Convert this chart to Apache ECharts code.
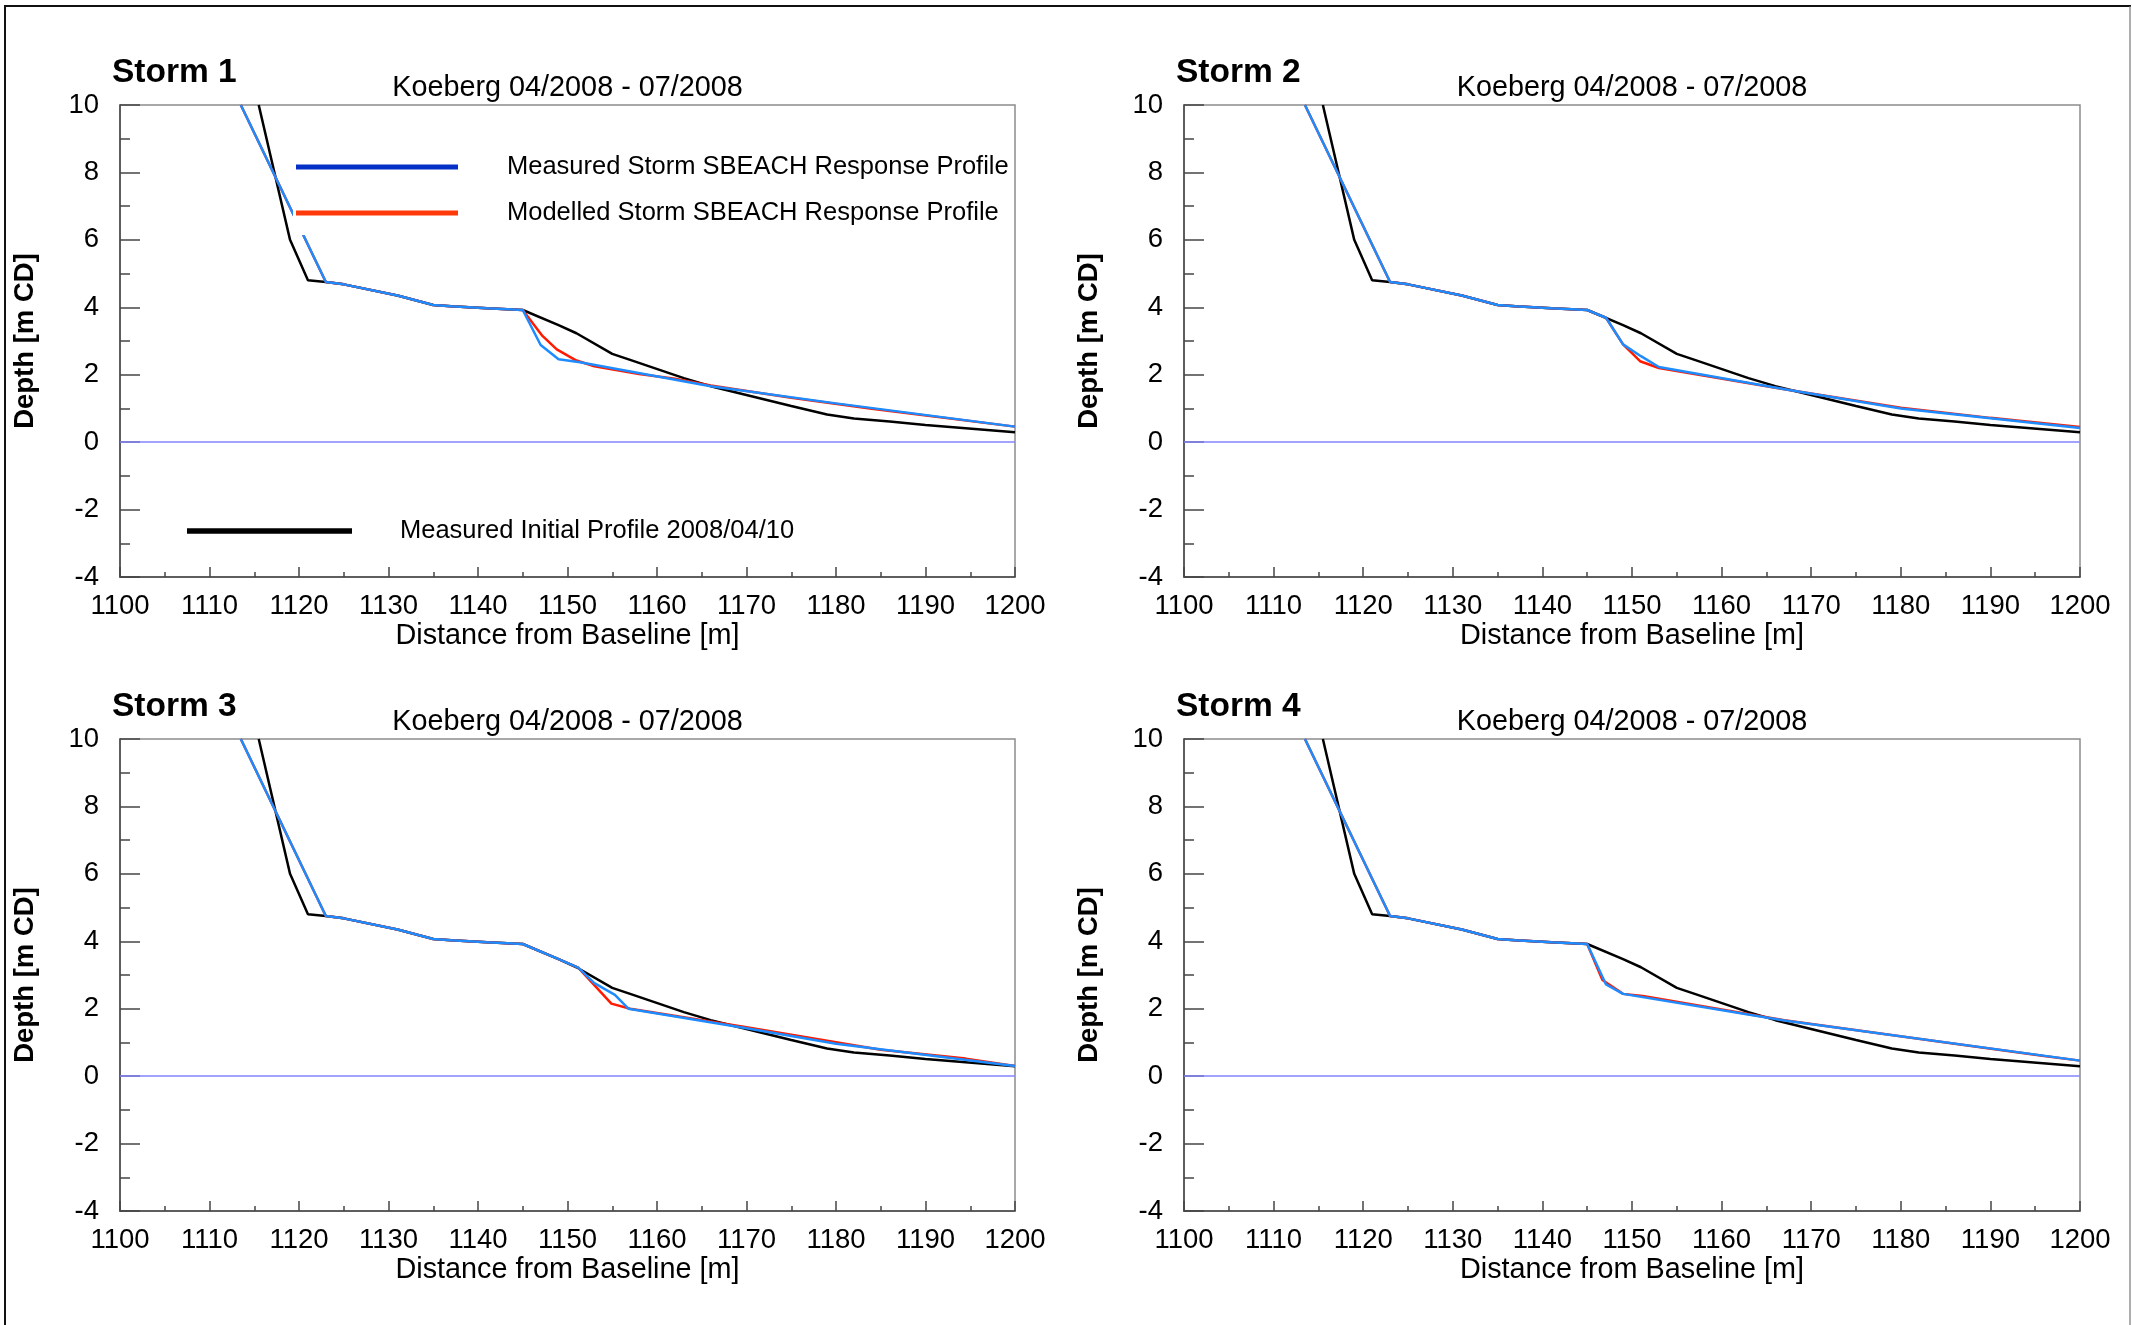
<!DOCTYPE html>
<html>
<head>
<meta charset="utf-8">
<script src="https://cdn.jsdelivr.net/npm/echarts@6/dist/echarts.min.js"></script>
<style>
  html, body { margin: 0; padding: 0; background: #fff; }
  #chart { width: 2132px; height: 1325px; }
</style>
</head>
<body>
<div id="chart"></div>
<script>
// Cross-shore beach profiles: [distance from baseline (m), depth (m CD)]

// Pre-storm survey, identical in every panel
const initialProfile = [
  [1115.5, 10], [1119, 6.0], [1121, 4.8], [1123, 4.75], [1125, 4.68], [1131, 4.35],
  [1135, 4.07], [1137, 4.03], [1141, 3.97], [1145, 3.92], [1149, 3.47], [1151, 3.23],
  [1155, 2.62], [1157, 2.44], [1163, 1.9], [1166, 1.66], [1175, 1.07], [1179, 0.82],
  [1182, 0.7], [1186, 0.61], [1190, 0.51], [1200, 0.29]
];

// Upper beach shared by all post-storm profiles
const crestProfile = [
  [1113.5, 10], [1123, 4.75], [1125, 4.68], [1131, 4.35], [1135, 4.07],
  [1137, 4.03], [1141, 3.97], [1145, 3.92]
];

// Lower beach, per storm: measured response and SBEACH model response
const measuredTail1 = [[1147, 2.88], [1149, 2.46], [1151.4, 2.37], [1166, 1.66], [1180, 1.15], [1200, 0.46]];
const modelledTail1 = [[1147.2, 3.15], [1148.8, 2.75], [1151, 2.42], [1153, 2.25], [1158, 2.02], [1162, 1.88],
                       [1166, 1.68], [1175, 1.32], [1184, 0.99], [1200, 0.46]];

const measuredTail2 = [[1147.1, 3.69], [1149, 2.9], [1151, 2.55], [1153, 2.23], [1167.2, 1.56], [1180, 1.0], [1200, 0.42]];
const modelledTail2 = [[1147.1, 3.69], [1149, 2.9], [1150.9, 2.4], [1153, 2.2], [1167, 1.57], [1180, 1.02],
                       [1190, 0.72], [1200, 0.45]];

const measuredTail3 = [[1149, 3.47], [1151.2, 3.22], [1153, 2.76], [1155.3, 2.41], [1156.8, 2.0], [1170, 1.42],
                       [1180, 0.96], [1200, 0.3]];
const modelledTail3 = [[1149, 3.47], [1151.2, 3.22], [1154.9, 2.15], [1157, 2.0], [1170, 1.45], [1185, 0.78],
                       [1194.5, 0.52], [1200, 0.3]];

const measuredTail4 = [[1147.1, 2.72], [1149, 2.44], [1167, 1.65], [1200, 0.46]];
const modelledTail4 = [[1146.7, 2.85], [1149, 2.44], [1151.2, 2.38], [1167, 1.66], [1185, 1.0], [1196, 0.6], [1200, 0.46]];

const stormNames = ['Storm 1', 'Storm 2', 'Storm 3', 'Storm 4'];
const siteTitle = 'Koeberg 04/2008 - 07/2008';
const seriesNames = {
  initial: 'Measured Initial Profile 2008/04/10',
  measured: 'Measured Storm SBEACH Response Profile',
  modelled: 'Modelled Storm SBEACH Response Profile'
};

const measuredTails = [measuredTail1, measuredTail2, measuredTail3, measuredTail4];
const modelledTails = [modelledTail1, modelledTail2, modelledTail3, modelledTail4];

// Panel geometry (2 x 2)
const FONT = '"Liberation Sans", Arial, Helvetica, sans-serif';
const panels = [
  { left: 120,  top: 105, width: 895, height: 472 },
  { left: 1184, top: 105, width: 896, height: 472 },
  { left: 120,  top: 739, width: 895, height: 472 },
  { left: 1184, top: 739, width: 896, height: 472 }
];

const AXIS_COLOR = '#454545';
const grids = [], xAxes = [], yAxes = [], series = [], titles = [];

panels.forEach((p, i) => {
  grids.push({
    left: p.left, top: p.top, width: p.width, height: p.height,
    show: true, borderColor: '#8c8c8c', borderWidth: 1.5,
    backgroundColor: 'transparent', containLabel: false, outerBoundsMode: 'none'
  });

  xAxes.push({
    gridIndex: i, type: 'value', min: 1100, max: 1200, interval: 10,
    name: 'Distance from Baseline [m]', nameLocation: 'middle', nameGap: 45,
    nameTextStyle: { fontSize: 28.8, color: '#000', fontFamily: FONT },
    axisLine: { show: true, onZero: false, lineStyle: { color: AXIS_COLOR, width: 1.5 } },
    axisTick: { show: true, inside: true, length: 10, lineStyle: { color: AXIS_COLOR, width: 1.5 } },
    minorTick: { show: true, splitNumber: 2, length: 5, lineStyle: { color: AXIS_COLOR, width: 1.5 } },
    axisLabel: { fontSize: 27.5, color: '#000', fontFamily: FONT, margin: 15, formatter: v => String(v) },
    splitLine: { show: false }, minorSplitLine: { show: false }
  });

  yAxes.push({
    gridIndex: i, type: 'value', min: -4, max: 10, interval: 2,
    name: 'Depth [m CD]', nameLocation: 'middle', nameGap: 81,
    nameTextStyle: { fontSize: 27.5, fontWeight: 'bold', color: '#000', fontFamily: FONT },
    axisLine: { show: true, onZero: false, lineStyle: { color: AXIS_COLOR, width: 1.5 } },
    axisTick: { show: true, inside: true, length: 20, lineStyle: { color: AXIS_COLOR, width: 1.5 } },
    minorTick: { show: true, splitNumber: 2, length: 10, lineStyle: { color: AXIS_COLOR, width: 1.5 } },
    axisLabel: { fontSize: 27.5, color: '#000', fontFamily: FONT, margin: 21, formatter: v => String(v) },
    splitLine: { show: false }, minorSplitLine: { show: false }
  });

  const common = {
    type: 'line', xAxisIndex: i, yAxisIndex: i, symbol: 'none', showSymbol: false,
    clip: true, animation: false, silent: true
  };

  series.push(Object.assign({}, common, {
    name: seriesNames.initial, data: initialProfile, z: 3,
    lineStyle: { color: '#000', width: 2.5 },
    markLine: {
      silent: true, symbol: 'none', animation: false, label: { show: false },
      lineStyle: { color: '#8585ff', width: 1.5, type: 'solid' },
      data: [{ yAxis: 0 }]
    }
  }));
  series.push(Object.assign({}, common, {
    name: seriesNames.modelled, data: crestProfile.concat(modelledTails[i]), z: 4,
    lineStyle: { color: '#ff1a00', width: 2.5 }
  }));
  series.push(Object.assign({}, common, {
    name: seriesNames.measured, data: crestProfile.concat(measuredTails[i]), z: 5,
    lineStyle: { color: '#1e8cff', width: 2.5 }
  }));

  titles.push({
    text: stormNames[i], left: p.left - 8, top: p.top - 49, padding: 0,
    textStyle: { fontSize: 33.5, fontWeight: 'bold', color: '#000', fontFamily: FONT }
  });
  titles.push({
    text: siteTitle, left: p.left + p.width / 2, top: p.top - 31.3, padding: 0, textAlign: 'center',
    textStyle: { fontSize: 28.8, fontWeight: 'normal', color: '#000', fontFamily: FONT }
  });
});

// Legend inside the first panel, drawn on an opaque white panel
const legendFont = '25.5px ' + FONT;
const graphic = [
  // page frame
  { type: 'line', z: 100, shape: { x1: 4, y1: 6, x2: 2131, y2: 6 }, style: { stroke: '#111', lineWidth: 2 } },
  { type: 'line', z: 100, shape: { x1: 5, y1: 6, x2: 5, y2: 1325 }, style: { stroke: '#111', lineWidth: 2 } },
  { type: 'line', z: 100, shape: { x1: 2130, y1: 6, x2: 2130, y2: 1325 }, style: { stroke: '#777', lineWidth: 1.2 } },

  { type: 'rect', z: 50, shape: { x: 293, y: 135, width: 719, height: 100 }, style: { fill: '#fff' } },
  { type: 'line', z: 51, shape: { x1: 296, y1: 167, x2: 458, y2: 167 }, style: { stroke: '#0530c8', lineWidth: 5 } },
  { type: 'text', z: 51, x: 507, y: 167, style: { text: seriesNames.measured, font: legendFont, fill: '#000', textAlign: 'left', textVerticalAlign: 'middle' } },
  { type: 'line', z: 51, shape: { x1: 296, y1: 213, x2: 458, y2: 213 }, style: { stroke: '#ff3a0a', lineWidth: 5 } },
  { type: 'text', z: 51, x: 507, y: 213, style: { text: seriesNames.modelled, font: legendFont, fill: '#000', textAlign: 'left', textVerticalAlign: 'middle' } },
  { type: 'line', z: 51, shape: { x1: 187, y1: 531, x2: 352, y2: 531 }, style: { stroke: '#000', lineWidth: 5.5 } },
  { type: 'text', z: 51, x: 400, y: 531, style: { text: seriesNames.initial, font: legendFont, fill: '#000', textAlign: 'left', textVerticalAlign: 'middle' } }
];

const chart = echarts.init(document.getElementById('chart'), null, { renderer: 'canvas' });
chart.setOption({
  backgroundColor: '#fff',
  animation: false,
  title: titles,
  grid: grids,
  xAxis: xAxes,
  yAxis: yAxes,
  series: series,
  graphic: graphic
});
</script>
</body>
</html>
